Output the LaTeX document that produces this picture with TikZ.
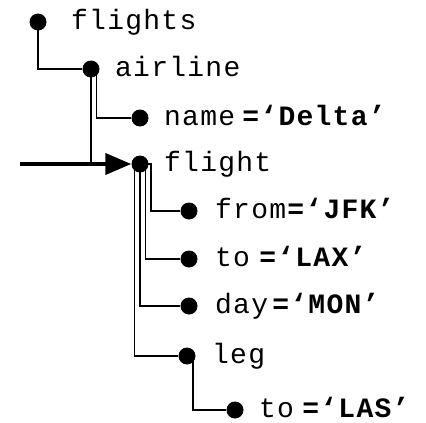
\documentclass[tikz,border=0pt]{standalone}
\usepackage{fontspec}
\newfontfamily\treefont{Liberation Mono}[LetterSpace=4.5]
\usetikzlibrary{arrows.meta}

\tikzset{
  dot/.style={circle,fill=black,inner sep=0pt,minimum size=17pt},
  lab/.style={anchor=base west,inner sep=0pt,font=\treefont\fontsize{28}{30}\selectfont},
  link/.style={line width=1.6pt},
  feed/.style={line width=4pt,-{Triangle[length=26pt,width=21pt]}},
}

\begin{document}
\begin{tikzpicture}[x=1pt,y=-1pt]
\useasboundingbox (0,0) rectangle (426,423);
\node[dot] (flights) at (38,22) {};
\node[dot] (airline) at (91,69) {};
\node[dot] (name) at (140,118) {};
\node[dot] (flight) at (140,164) {};
\node[dot] (from) at (189,211) {};
\node[dot] (toA) at (189,259) {};
\node[dot] (day) at (189,306) {};
\node[dot] (leg) at (187,356) {};
\node[dot] (toB) at (235,410) {};
\coordinate (in) at (20,164);
% labels
\node[lab] (flightsL) at (71,29) {flights};
\node[lab] (airlineL) at (115,76) {airline};
\node[lab] (nameL) at (164,125) {name\hspace{6pt}\textbf{=‘Delta’}};
\node[lab] (flightL) at (164,171) {flight};
\node[lab] (fromL) at (215,218) {from\textbf{=‘JFK’}};
\node[lab] (toAL) at (215,266) {to\hspace{8pt}\textbf{=‘LAX’}};
\node[lab] (dayL) at (215,313) {day\hspace{3pt}\textbf{=‘MON’}};
\node[lab] (legL) at (212,363) {leg};
\node[lab] (toBL) at (259,417) {to\hspace{7pt}\textbf{=‘LAS’}};
% tree lines
\draw[link] (flights.center) |- (airline);
\draw[link] (airline.center) -- (airline.center |- in);
\draw[link] ([xshift=5.5pt]airline.center) |- (name);
\draw[link] (flight.center) -- ++(11,0) |- (from);
\draw[link] ([xshift=5.5pt]flight.center) |- (toA);
\draw[link] (flight.center) |- (day);
\draw[link] ([xshift=-5.5pt]flight.center) |- (leg);
\draw[link] ([xshift=6pt]leg.center) |- (toB);
\draw[feed] (in) -- (flight);
\end{tikzpicture}
\end{document}
